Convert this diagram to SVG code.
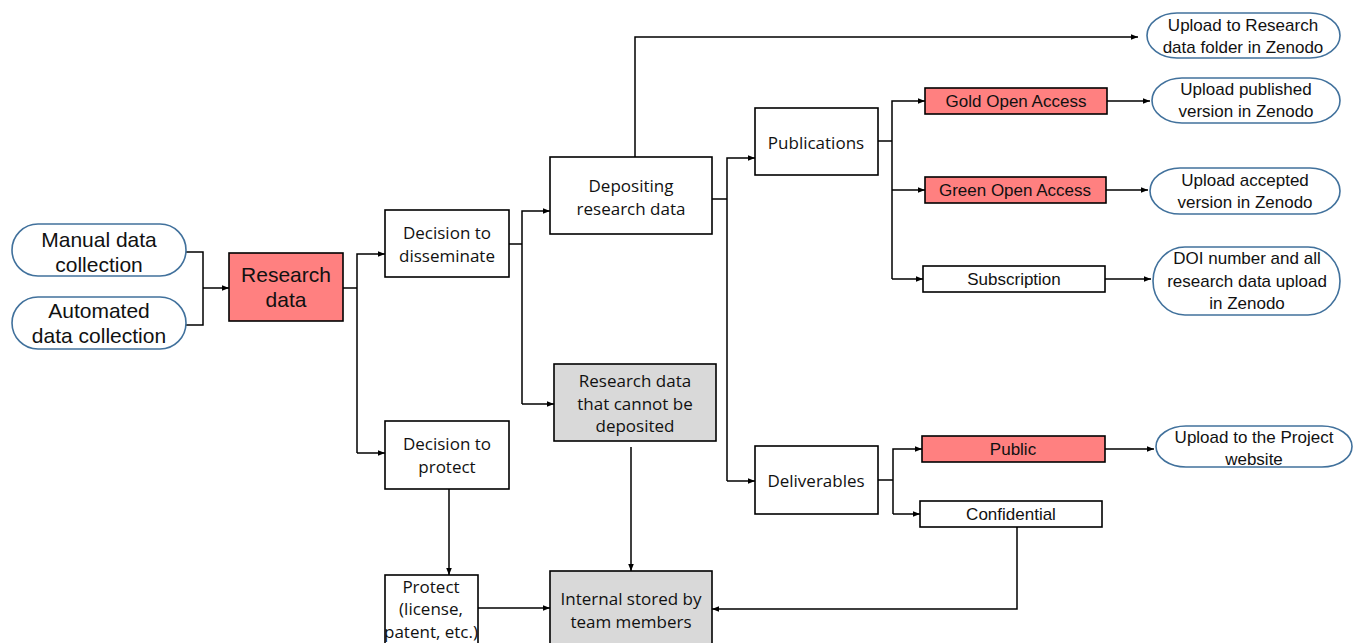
<svg xmlns="http://www.w3.org/2000/svg" width="1360" height="643" viewBox="0 0 1360 643">
<defs>
<marker id="ah" viewBox="0 0 10 10" refX="10" refY="5" markerWidth="7" markerHeight="7" markerUnits="userSpaceOnUse" orient="auto">
<path d="M0,1 L10,5 L0,9 z" fill="#000"/>
</marker>
<style>
.box{fill:#fff;stroke:#000;stroke-width:1.6}
.red{fill:#ff8080;stroke:#000;stroke-width:1.6}
.gray{fill:#d9d9d9;stroke:#000;stroke-width:1.6}
.pill{fill:#fff;stroke:#41719c;stroke-width:1.6}
.t{font-family:"Open Sans","Liberation Sans",sans-serif;font-size:17px;fill:#111;text-anchor:middle;dominant-baseline:central}
.tl{font-family:"Liberation Sans","Open Sans",sans-serif;font-size:21px;fill:#111;text-anchor:middle;dominant-baseline:central}
.tn{font-family:"Liberation Sans","Open Sans",sans-serif;font-size:17px;fill:#111;text-anchor:middle;dominant-baseline:central}
.c{fill:none;stroke:#000;stroke-width:1.5}
</style>
</defs>
<g id="connectors">
<polyline class="c" points="186,252 203,252 203,325 186,325"/>
<line class="c" x1="203" y1="288" x2="229" y2="288" marker-end="url(#ah)"/>
<line class="c" x1="343" y1="288" x2="357" y2="288"/>
<polyline class="c" points="357,453 357,254 385,254" marker-end="url(#ah)"/>
<line class="c" x1="357" y1="453" x2="385" y2="453" marker-end="url(#ah)"/>
<line class="c" x1="509" y1="244" x2="522" y2="244"/>
<polyline class="c" points="522,404 522,211 550,211" marker-end="url(#ah)"/>
<line class="c" x1="522" y1="404" x2="554" y2="404" marker-end="url(#ah)"/>
<polyline class="c" points="635,157 635,37 1138,37" marker-end="url(#ah)"/>
<line class="c" x1="712" y1="199" x2="727" y2="199"/>
<polyline class="c" points="727,481 727,158 755,158" marker-end="url(#ah)"/>
<line class="c" x1="727" y1="481" x2="755" y2="481" marker-end="url(#ah)"/>
<line class="c" x1="878" y1="141" x2="892" y2="141"/>
<polyline class="c" points="892,279 892,101 925,101" marker-end="url(#ah)"/>
<line class="c" x1="892" y1="190" x2="925" y2="190" marker-end="url(#ah)"/>
<line class="c" x1="892" y1="279" x2="923" y2="279" marker-end="url(#ah)"/>
<line class="c" x1="1107" y1="101" x2="1150" y2="101" marker-end="url(#ah)"/>
<line class="c" x1="1106" y1="190" x2="1148" y2="190" marker-end="url(#ah)"/>
<line class="c" x1="1105" y1="279" x2="1151" y2="279" marker-end="url(#ah)"/>
<line class="c" x1="878" y1="480" x2="893" y2="480"/>
<polyline class="c" points="893,514 893,449 922,449" marker-end="url(#ah)"/>
<line class="c" x1="893" y1="514" x2="920" y2="514" marker-end="url(#ah)"/>
<line class="c" x1="1105" y1="449" x2="1154" y2="449" marker-end="url(#ah)"/>
<polyline class="c" points="1017,527 1017,609 712,609" marker-end="url(#ah)"/>
<line class="c" x1="631" y1="447" x2="631" y2="571" marker-end="url(#ah)"/>
<line class="c" x1="449" y1="489" x2="449" y2="575" marker-end="url(#ah)"/>
<line class="c" x1="478" y1="608" x2="550" y2="608" marker-end="url(#ah)"/>
</g>
<g id="manual">
<rect class="pill" x="12" y="224" width="174" height="52" rx="26" ry="26"/>
<text class="tl" x="99" y="239">Manual data</text>
<text class="tl" x="99" y="264">collection</text>
</g>
<g id="automated">
<rect class="pill" x="12" y="297" width="174" height="52" rx="26" ry="26"/>
<text class="tl" x="99" y="310">Automated</text>
<text class="tl" x="99" y="335">data collection</text>
</g>
<g id="research-data">
<rect class="red" x="229" y="253" width="114" height="68"/>
<text class="tl" x="286" y="274">Research</text>
<text class="tl" x="286" y="299">data</text>
</g>
<g id="disseminate">
<rect class="box" x="385" y="210" width="124" height="67"/>
<text class="t" x="447" y="232">Decision to</text>
<text class="t" x="447" y="255">disseminate</text>
</g>
<g id="protect-decision">
<rect class="box" x="385" y="421" width="124" height="68"/>
<text class="t" x="447" y="443">Decision to</text>
<text class="t" x="447" y="466">protect</text>
</g>
<g id="depositing">
<rect class="box" x="550" y="157" width="162" height="77"/>
<text class="t" x="631" y="185">Depositing</text>
<text class="t" x="631" y="208">research data</text>
</g>
<g id="cannot-deposit">
<rect class="gray" x="554" y="364" width="162" height="77"/>
<text class="t" x="635" y="380">Research data</text>
<text class="t" x="635" y="403">that cannot be</text>
<text class="t" x="635" y="425">deposited</text>
</g>
<g id="protect">
<rect class="box" x="385" y="575" width="93" height="72"/>
<text class="t" x="431" y="586">Protect</text>
<text class="t" x="431" y="608">(license,</text>
<text class="t" x="431" y="631">patent, etc.)</text>
</g>
<g id="internal">
<rect class="gray" x="550" y="571" width="162" height="76"/>
<text class="t" x="631" y="598">Internal stored by</text>
<text class="t" x="631" y="621">team members</text>
</g>
<g id="publications">
<rect class="box" x="755" y="108" width="123" height="67"/>
<text class="t" x="816" y="142">Publications</text>
</g>
<g id="deliverables">
<rect class="box" x="755" y="446" width="123" height="68"/>
<text class="t" x="816" y="480">Deliverables</text>
</g>
<g id="gold">
<rect class="red" x="925" y="88" width="182" height="26"/>
<text class="tn" x="1016" y="101">Gold Open Access</text>
</g>
<g id="green">
<rect class="red" x="925" y="177" width="181" height="26"/>
<text class="tn" x="1015" y="190">Green Open Access</text>
</g>
<g id="subscription">
<rect class="box" x="923" y="266" width="182" height="26"/>
<text class="tn" x="1014" y="279">Subscription</text>
</g>
<g id="public">
<rect class="red" x="922" y="436" width="183" height="26"/>
<text class="tn" x="1013" y="449">Public</text>
</g>
<g id="confidential">
<rect class="box" x="920" y="501" width="182" height="26"/>
<text class="tn" x="1011" y="514">Confidential</text>
</g>
<g id="upload-research">
<rect class="pill" x="1147" y="13" width="193" height="45" rx="30" ry="22.5"/>
<text class="tn" x="1243" y="25">Upload to Research</text>
<text class="tn" x="1243" y="47">data folder in Zenodo</text>
</g>
<g id="upload-published">
<rect class="pill" x="1152" y="78" width="188" height="45" rx="30" ry="22.5"/>
<text class="tn" x="1246" y="89">Upload published</text>
<text class="tn" x="1246" y="111">version in Zenodo</text>
</g>
<g id="upload-accepted">
<rect class="pill" x="1150" y="168" width="190" height="46" rx="30" ry="23"/>
<text class="tn" x="1245" y="180">Upload accepted</text>
<text class="tn" x="1245" y="202">version in Zenodo</text>
</g>
<g id="doi">
<rect class="pill" x="1153" y="247" width="187" height="68" rx="32" ry="34"/>
<text class="tn" x="1247" y="258">DOI number and all</text>
<text class="tn" x="1247" y="281">research data upload</text>
<text class="tn" x="1247" y="303">in Zenodo</text>
</g>
<g id="upload-website">
<rect class="pill" x="1156" y="426" width="196" height="41" rx="30" ry="20.5"/>
<text class="tn" x="1254" y="437">Upload to the Project</text>
<text class="tn" x="1254" y="459">website</text>
</g>
</svg>
